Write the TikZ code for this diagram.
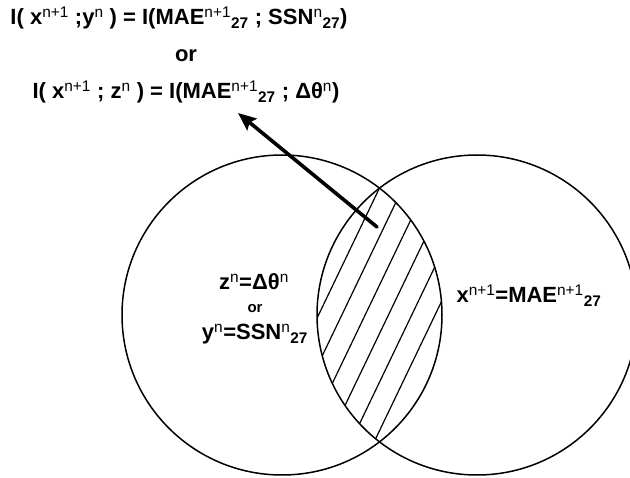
\documentclass[tikz,border=0pt]{standalone}
\usepackage{fontspec}
\setmainfont{Liberation Sans}
\usetikzlibrary{arrows.meta}
\tikzset{
  every picture/.style={line join=round, line cap=round, >=Stealth},
  venn/.style={line width=1.5pt},
  hatch/.style={line width=1.2pt},
  pointer/.style={line width=3.6pt, -{Stealth[length=18pt,width=15pt,inset=3pt]}},
  lbl/.style={font=\fontsize{22}{26}\selectfont\bfseries, inner sep=0pt, anchor=base},
  sml/.style={font=\fontsize{15}{18}\selectfont\bfseries, inner sep=0pt, anchor=base},
}
\newcommand{\supr}[1]{\textsuperscript{\mdseries #1}}
\newcommand{\subr}[1]{\textsubscript{#1}}

\begin{document}
\begin{tikzpicture}[x=1pt,y=-1pt]
\useasboundingbox (0,0) rectangle (630,478);
% the two sets
\coordinate (cL) at (282,315);
\coordinate (cR) at (477,315);
\draw[venn] (cL) circle[radius=160pt];
\draw[venn] (cR) circle[radius=160pt];
% hatched overlap
\begin{scope}
\clip (cL) circle[radius=160pt];
\clip (cR) circle[radius=160pt];
\foreach \k in {0,...,5}
  \draw[hatch] ({379.5+23.3*\k+0.48*150},38)--({379.5+23.3*\k-0.48*300},488);
\end{scope}
% labels
\node[lbl] (mi1) at (179,25) {I( x\supr{n+1} ;y\supr{n} ) = I(MAE\supr{n+1}\subr{27} ; SSN\supr{n}\subr{27})};
\node[lbl] (or1) at (186,62) {or};
\node[lbl] (mi2) at (186,99) {I( x\supr{n+1} ; z\supr{n} ) = I(MAE\supr{n+1}\subr{27} ; Δθ\supr{n})};
\node[lbl] (zset) at (254,290) {z\supr{n}=Δθ\supr{n}};
\node[sml] (or2) at (255,313) {or};
\node[lbl] (yset) at (255,340) {y\supr{n}=SSN\supr{n}\subr{27}};
\node[lbl] (xset) at (529,303) {x\supr{n+1}=MAE\supr{n+1}\subr{27}};
% pointer to the formula
\coordinate (lensPt) at (377,227);
\coordinate (tip) at (238,113);
\draw[pointer] (lensPt) -- (tip);
\end{tikzpicture}
\end{document}
